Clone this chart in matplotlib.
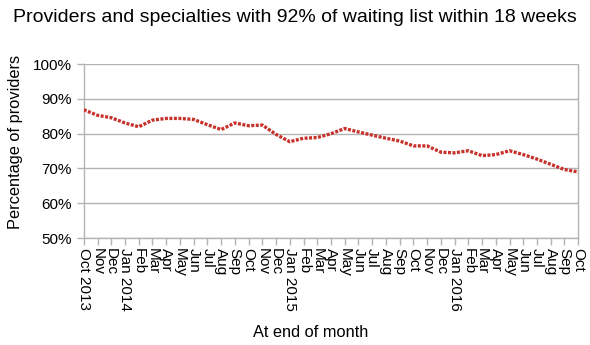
import matplotlib
matplotlib.use("Agg")
import matplotlib.pyplot as plt

plt.rcParams['font.family'] = ['Liberation Sans', 'DejaVu Sans']

months = ["Oct 2013", "Nov", "Dec", "Jan 2014", "Feb", "Mar", "Apr", "May", "Jun", "Jul",
          "Aug", "Sep", "Oct", "Nov", "Dec", "Jan 2015", "Feb", "Mar", "Apr", "May",
          "Jun", "Jul", "Aug", "Sep", "Oct", "Nov", "Dec", "Jan 2016", "Feb", "Mar",
          "Apr", "May", "Jun", "Jul", "Aug", "Sep", "Oct"]
pct_providers = [86.9, 85.3, 84.6, 83.1, 82.0, 83.9, 84.4, 84.4, 84.1, 82.6,
                 81.2, 83.1, 82.3, 82.5, 79.8, 77.7, 78.7, 78.9, 80.0, 81.5,
                 80.5, 79.6, 78.7, 77.9, 76.5, 76.5, 74.7, 74.5, 75.1, 73.7,
                 74.0, 75.1, 74.0, 72.7, 71.2, 69.7, 69.0]
y_ticks = [50, 60, 70, 80, 90, 100]

grey = '#b3b3b3'

fig = plt.figure(figsize=(5.9, 3.45), dpi=100)
ax = fig.add_axes([0.142, 0.31, 0.838, 0.504])

x = range(len(months))
line, = ax.plot(x, pct_providers, color='#c8302a', lw=2.4, zorder=3)
line.set_dashes((0.9, 0.45))
line.set_dash_capstyle('butt')

ax.set_xlim(0, len(months) - 1)
ax.set_ylim(50, 100)
ax.set_yticks(y_ticks)
ax.set_yticklabels([f"{v}%" for v in y_ticks], fontsize=11)
ax.set_xticks(list(x))
ax.set_xticklabels(months, rotation=270, fontsize=11, ha='center', va='top')

ax.grid(axis='y', color=grey, lw=1)
ax.set_axisbelow(True)
for s in ax.spines.values():
    s.set_color(grey)
    s.set_linewidth(1)
ax.spines['top'].set_visible(False)
ax.tick_params(axis='both', colors=grey, length=5, width=1, labelcolor='black')
ax.tick_params(axis='x', pad=2)

ax.set_ylabel("Percentage of providers", fontsize=11.8)
ax.yaxis.set_label_coords(-0.122, 0.555)
fig.text(0.527, 0.035, "At end of month", fontsize=11.8, ha='center', va='center')
fig.text(0.5, 0.95, "Providers and specialties with 92% of waiting list within 18 weeks",
         fontsize=14, ha='center', va='center')

fig.savefig("out.png", dpi=100)
